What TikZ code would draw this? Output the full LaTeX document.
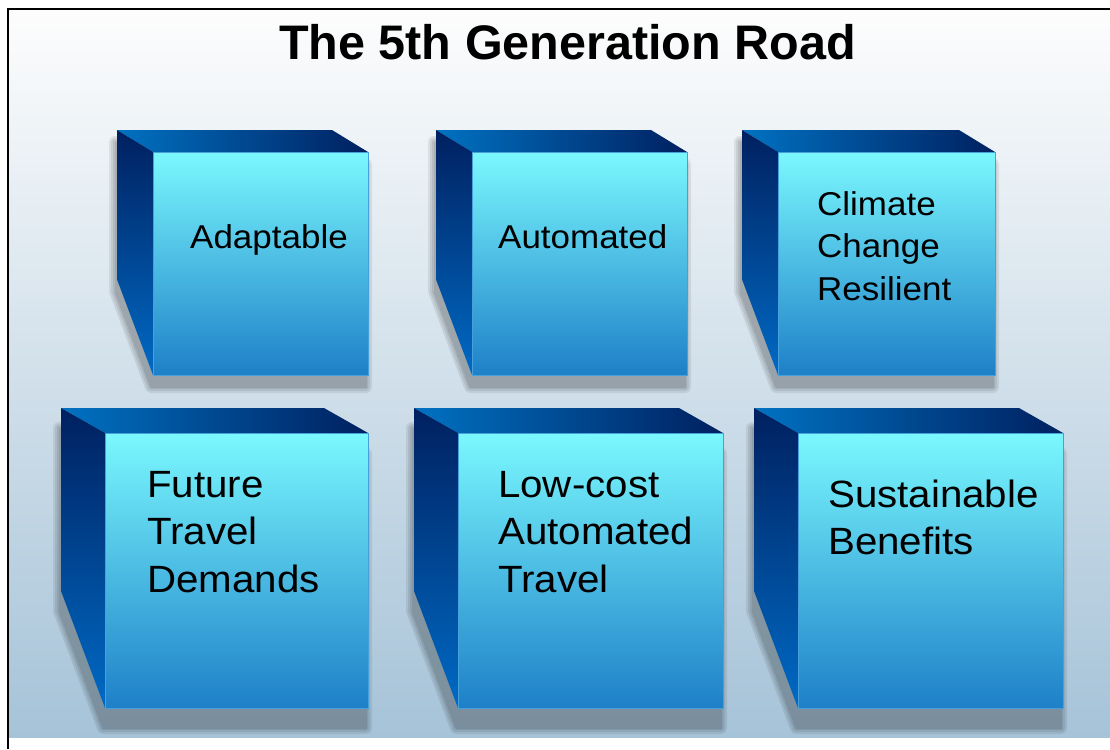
\documentclass[tikz,border=0pt]{standalone}
\usepackage{fontspec}
\setmainfont{Liberation Sans}
\newfontfamily\labfont[FakeStretch=1.06]{Liberation Sans}
\usetikzlibrary{calc}
\definecolor{bgT}{RGB}{253,253,253}
\definecolor{bgM}{RGB}{214,219,227}
\definecolor{bgB}{RGB}{166,195,216}
\definecolor{topL}{RGB}{0,114,194}
\definecolor{topR}{RGB}{0,32,96}
\definecolor{sideT}{RGB}{0,32,96}
\definecolor{sideB}{RGB}{0,106,196}
\definecolor{frT}{RGB}{122,248,254}
\definecolor{frM}{RGB}{92,208,238}
\definecolor{frB}{RGB}{30,128,200}
\definecolor{frEdge}{RGB}{70,160,220}
\tikzset{
  toplab/.style={font=\labfont\fontsize{33}{42.5}\selectfont, inner sep=0pt, anchor=base west, text=black},
  botlab/.style={font=\labfont\fontsize{38}{47.5}\selectfont, inner sep=0pt, anchor=base west, text=black},
  titlelab/.style={font=\bfseries\fontsize{48.5}{58}\selectfont, inner sep=0pt, anchor=base, text=black}
}
% #1 front left x, #2 front top y, #3 width, #4 height, #5 depth dx, #6 depth dy, #7 shadow shift
\newcommand\rqcube[7]{%
  \pgfmathsetmacro\rqbx{#1-#5}%
  \pgfmathsetmacro\rqby{#2-#6}%
  \pgfmathsetmacro\rqbot{#2+#4}%
  \pgfmathsetmacro\rqright{#1+#3}%
  \pgfmathsetmacro\rqbackr{#1+#3-#5}%
  \pgfmathsetmacro\rqslant{\rqby+0.61*(\rqbot-\rqby)}%
  \foreach \rqlw in {0,4,8,12}{%
    \begin{scope}[transparency group, opacity=0.075]
      \filldraw[black, line width=\rqlw pt, line join=round, shift={(-2,#7)}]
        (\rqbx,\rqby) -- (\rqright,#2) -- (\rqright,\rqbot) -- (#1,\rqbot) -- (\rqbx,\rqslant) -- cycle;
    \end{scope}
  }%
  \shade[left color=topL, right color=topR]
    (\rqbx,\rqby) -- (\rqbackr,\rqby) -- (\rqright,#2) -- (#1,#2) -- cycle;
  \shade[top color=sideT, bottom color=sideB]
    (\rqbx,\rqby) -- (#1,#2) -- (#1,\rqbot) -- (\rqbx,\rqslant) -- cycle;
  \shadedraw[top color=frT, middle color=frM, bottom color=frB, draw=frEdge, line width=0.8pt]
    (#1,#2) rectangle (\rqright,\rqbot);
}
\begin{document}
\begin{tikzpicture}[x=1pt,y=-1pt]
  \useasboundingbox (0,0) rectangle (1110,749);
  \fill[white] (0,0) rectangle (1110,749);
  \shade[top color=bgT, middle color=bgM, bottom color=bgB] (8,9) rectangle (1110,737);
  \draw[line width=1.8pt] (8,749) -- (8,9) -- (1110,9);

  \node[titlelab] (title) at (567.5,60) {The 5th Generation Road};

  % top row
  \rqcube{153}{152}{215}{223}{36}{22}{12}
  \rqcube{472}{152}{215}{223}{36}{22}{12}
  \rqcube{778}{152}{217}{223}{36}{22}{12}
  % bottom row
  \rqcube{105}{433}{263}{275}{44}{25}{20}
  \rqcube{458}{433}{265}{275}{44}{25}{20}
  \rqcube{798}{433}{265}{275}{44}{25}{20}

  \node[toplab] (adaptable) at (190,248) {Adaptable};
  \node[toplab] (automated) at (498,248) {Automated};
  \node[toplab] (climate) at (817,215) {\vtop{\hbox{Climate}\hbox{Change}\hbox{Resilient}}};
  \node[botlab] (future) at (147,497) {\vtop{\hbox{Future}\hbox{Travel}\hbox{Demands}}};
  \node[botlab] (lowcost) at (498,497) {\vtop{\hbox{Low-cost}\hbox{Automated}\hbox{Travel}}};
  \node[botlab] (sustain) at (828,507) {\vtop{\hbox{Sustainable}\hbox{Benefits}}};
\end{tikzpicture}
\end{document}
